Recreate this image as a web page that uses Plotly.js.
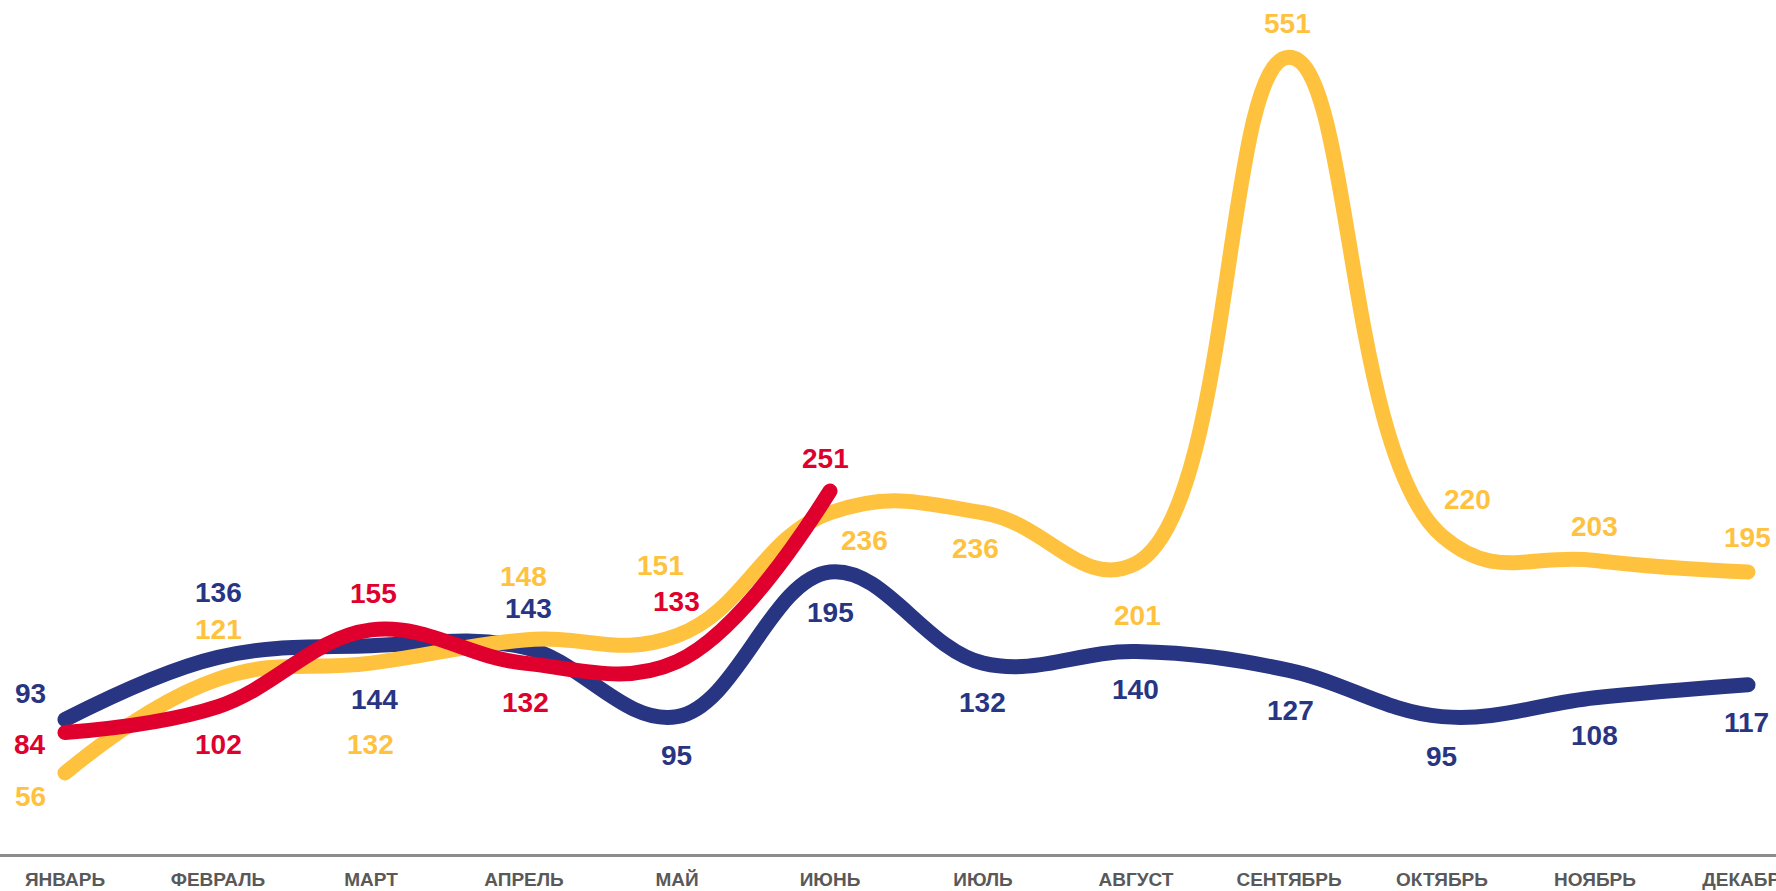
<!DOCTYPE html>
<html>
<head>
<meta charset="utf-8">
<script src="https://cdn.plot.ly/plotly-3.0.1.min.js"></script>
<style>
html, body { margin: 0; padding: 0; background: #fff; }
#chart { width: 1776px; height: 891px; }
.scatterlayer .js-line { stroke-linecap: round; stroke-linejoin: round; }
</style>
</head>
<body>
<div id="chart"></div>
<script>
// ---- data ----
const months = ["ЯНВАРЬ", "ФЕВРАЛЬ", "МАРТ", "АПРЕЛЬ", "МАЙ", "ИЮНЬ", "ИЮЛЬ", "АВГУСТ", "СЕНТЯБРЬ", "ОКТЯБРЬ", "НОЯБРЬ", "ДЕКАБРЬ"];
const navyValues = [93, 136, 144, 143, 95, 195, 132, 140, 127, 95, 108, 117];
const yellowValues = [56, 121, 132, 148, 151, 236, 236, 201, 551, 220, 203, 195];
const redValues = [84, 102, 155, 132, 133, 251];

// ---- styles ----
const NAVY = "#283583";
const YELLOW = "#FFC23F";
const RED = "#E0002D";
const LW = 15;

// label offsets in px (dx right, dy down) for each point
const navyOffsets = [[-34,-26],[0,-65],[3,54],[4,-39],[-1,39],[0,40],[-1,39],[-1,38],[1,40],[-1,40],[-1,38],[-2,38]];
const yellowOffsets = [[-34,23],[0,-50],[-1,81],[-1,-63],[-17,-70],[34,28],[-8,36],[1,52],[-2,-34],[25,-36],[-1,-34],[-1,-35]];
const redOffsets = [[-35,12],[0,38],[2,-36],[1,39],[-1,-60],[-5,-33]];

function series(vals, color, smooth) {
  return {
    type: "scatter",
    mode: "lines",
    x: months.slice(0, vals.length),
    y: vals,
    line: { color: color, width: LW, shape: "spline", smoothing: smooth },
    hoverinfo: "skip",
    showlegend: false
  };
}

function labels(vals, offsets, color) {
  return vals.map((v, i) => ({
    x: months[i],
    y: v,
    xref: "x",
    yref: "y",
    text: String(v),
    showarrow: false,
    xanchor: "center",
    yanchor: "middle",
    xshift: offsets[i][0],
    yshift: -offsets[i][1],
    font: { family: "Liberation Sans, Arial, sans-serif", size: 28, color: color, weight: "bold" }
  }));
}

const data = [
  series(navyValues, NAVY, 1.1),
  series(yellowValues, YELLOW, 1.25),
  series(redValues, RED, 1.1)
];

const annotations = []
  .concat(labels(navyValues, navyOffsets, NAVY))
  .concat(labels(yellowValues, yellowOffsets, YELLOW))
  .concat(labels(redValues, redOffsets, RED));

const layout = {
  width: 1776,
  height: 891,
  margin: { l: 0, r: 0, t: 0, b: 37, pad: 0 },
  paper_bgcolor: "#ffffff",
  plot_bgcolor: "#ffffff",
  showlegend: false,
  xaxis: {
    type: "category",
    categoryorder: "array",
    categoryarray: months,
    range: [-0.4248, 11.183],
    showgrid: false,
    zeroline: false,
    showline: true,
    linecolor: "#8c8c8c",
    linewidth: 3,
    ticks: "",
    ticklabelstandoff: 6,
    tickfont: { family: "Liberation Sans, Arial, sans-serif", size: 19, color: "#595959", weight: "bold" },
    fixedrange: true
  },
  yaxis: {
    range: [0, 590.6],
    showgrid: false,
    zeroline: false,
    showline: false,
    showticklabels: false,
    ticks: "",
    fixedrange: true
  },
  annotations: annotations
};

Plotly.newPlot("chart", data, layout, { displayModeBar: false, staticPlot: true });
</script>
</body>
</html>
